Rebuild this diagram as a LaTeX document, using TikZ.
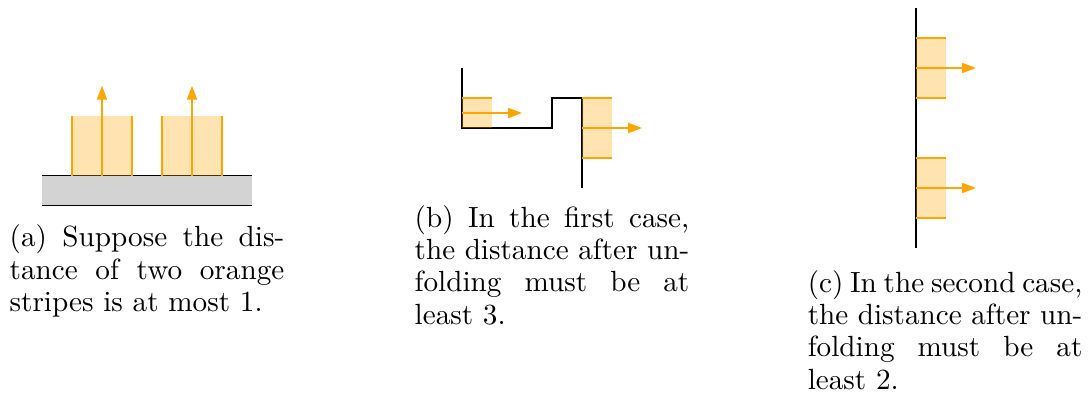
\documentclass[tikz,border=0pt]{standalone}
\usetikzlibrary{arrows.meta, positioning}
\definecolor{bandcol}{RGB}{255,165,0}
\definecolor{floorcol}{RGB}{211,211,211}
\newcommand{\jline}[1]{\makebox[\linewidth][s]{#1}}
\newcommand{\capspace}{\spaceskip=3.65pt plus 8pt minus 1.25pt\relax}

\begin{document}
\begin{tikzpicture}[
    x=11.25pt, y=11.25pt,
    wall/.style={draw=black, line width=0.4pt},
    band/.style={fill=bandcol, fill opacity=0.3},
    bandedge/.style={draw=bandcol, line width=0.5pt},
    push/.style={-{Triangle[length=5.2pt, width=3.8pt]}, draw=bandcol, line width=0.5pt},
    subcap/.style={text width=103pt, align=left, inner sep=0pt,
        font=\fontsize{10.95}{12.1}\selectfont}
]
    \useasboundingbox (0,0) rectangle (36.4,-13.4333);

    % (a) two stripes on the floor
    \begin{scope}[shift={(1.4,-6.86)}]
        \fill[floorcol] (0,0) rectangle (7,1);
        \draw[wall] (0,0) -- (7,0);
        \draw[wall] (0,1) -- (7,1);
        \foreach \x in {1,4} {
            \fill[band] (\x,1) rectangle ++(2,2);
            \draw[bandedge] (\x,1) -- ++(0,2) (\x+2,1) -- ++(0,2);
            \draw[push] (\x+1,1) -- ++(0,3);
        }
        \coordinate (a-bot) at (3.5,0);
    \end{scope}
    \node[subcap, below=7pt of a-bot] (a-cap) {\capspace
        \jline{(a) Suppose the dis-}\\
        \jline{tance of two orange}\\
        stripes is at most 1.};

    % (b) first case
    \begin{scope}[shift={(15.4,-6.2667)}]
        \draw[wall] (0,4) -- (0,2) -- (3,2) -- (3,3) -- (4,3) -- (4,0);
        \fill[band] (0,2) rectangle (1,3);
        \draw[bandedge] (0,3) -- (1,3);
        \fill[band] (4,1) rectangle (5,3);
        \draw[bandedge] (4,1) -- (5,1) (4,3) -- (5,3);
        \draw[push] (0,2.5) -- (2,2.5);
        \draw[push] (4,2) -- (6,2);
        \coordinate (b-bot) at (3,0);
    \end{scope}
    \node[subcap, below=6.3pt of b-bot] (b-cap) {\capspace
        \jline{(b) In the first case,}\\
        \jline{the distance after un-}\\
        \jline{folding must be at}\\
        least 3.};

    % (c) second case
    \begin{scope}[shift={(30.533,-8.2667)}]
        \draw[wall] (0,0) -- (0,8);
        \foreach \y in {1,5} {
            \fill[band] (0,\y) rectangle (1,\y+2);
            \draw[bandedge] (0,\y) -- ++(1,0) (0,\y+2) -- ++(1,0);
            \draw[push] (0,\y+1) -- ++(2,0);
        }
        \coordinate (c-bot) at (0.97,0);
    \end{scope}
    \node[subcap, below=8.2pt of c-bot] (c-cap) {\capspace
        \jline{(c) In the second case,}\\
        \jline{the distance after un-}\\
        \jline{folding must be at}\\
        least 2.};
\end{tikzpicture}
\end{document}
